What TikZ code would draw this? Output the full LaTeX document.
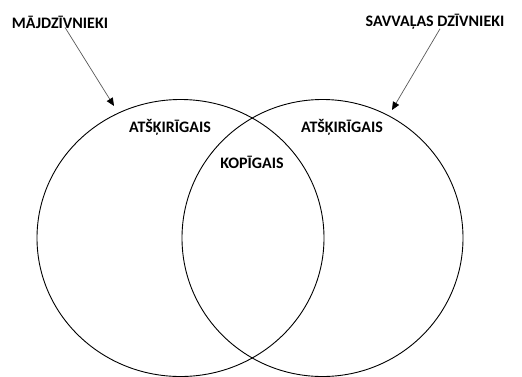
\documentclass[tikz,border=0pt]{standalone}
\usepackage{fontspec}
\setmainfont{Carlito}
\usetikzlibrary{positioning,arrows.meta}
\usepgflibrary{shapes.geometric}
\tikzset{%
set/.style={draw,ellipse,line width=0.9pt,inner sep=0},
title/.style={font=\bfseries\fontsize{16}{18}\selectfont,inner sep=1pt},
region/.style={font=\bfseries\fontsize{16}{18}\selectfont,inner sep=1pt},
pointer/.style={draw=black!65,line width=0.7pt,-{Triangle[length=8pt,width=7pt,fill=black,color=black]}}
}
\begin{document}
\begin{tikzpicture}[x=1pt,y=-1pt]
    \useasboundingbox (0,0) rectangle (522,376);

    \node[set,minimum width=287pt,minimum height=277pt] (home) at (180.5,238) {};
    \node[set,minimum width=281pt,minimum height=277pt] (wild) at (322.5,238) {};

    \node[title] (homelbl) at (60,22) {MĀJDZĪVNIEKI};
    \node[title] (wildlbl) at (435,22) {SAVVAĻAS DZĪVNIEKI};

    \node[region] (homeonly) at (170,127) {ATŠĶIRĪGAIS};
    \node[region] (wildonly) at (342,127) {ATŠĶIRĪGAIS};
    \node[region] (common) at (252,162) {KOPĪGAIS};

    \coordinate (hometip) at (114,106);
    \coordinate (wildtip) at (392,110);

    \draw[pointer] ([xshift=5pt,yshift=2pt]homelbl.south) -- (hometip);
    \draw[pointer] ([xshift=5pt,yshift=2pt]wildlbl.south) -- (wildtip);
  \end{tikzpicture}
\end{document}
